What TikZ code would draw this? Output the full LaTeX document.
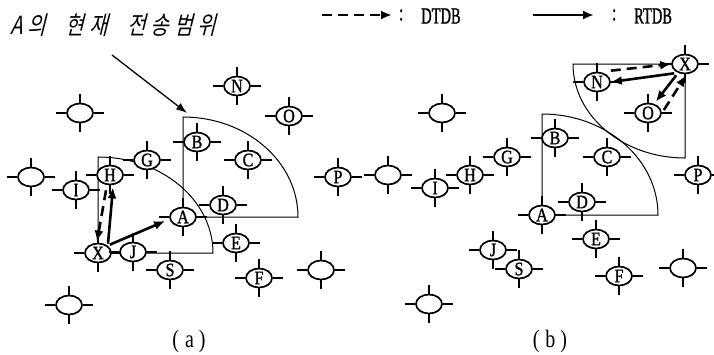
\documentclass[tikz,border=0pt]{standalone}
\usepackage{fontspec}
\setmainfont{Liberation Serif}
\newfontfamily\lblfont{Liberation Serif}[FakeStretch=0.85,FakeBold=1.2]
\newfontfamily\legfont{Liberation Serif}[FakeStretch=0.63,FakeBold=1]
\newfontfamily\capfont{Liberation Serif}[FakeStretch=0.8]
\newfontfamily\kfont{Noto Sans CJK KR}[FakeSlant=0.25,FakeStretch=0.8]
\usetikzlibrary{shapes.geometric,arrows.meta,backgrounds,calc}

\tikzset{
  station/.style={ellipse, draw, line width=1.7pt, fill=white,
    minimum width=26pt, minimum height=19pt, inner sep=0pt,
    font=\lblfont\fontsize{19}{19}\selectfont},
  tickline/.style={line width=1.4pt},
  rangeline/.style={line width=1pt},
  rtdb/.style={line width=2.6pt, -{Latex[length=11pt,width=9pt]}},
  dtdb/.style={rtdb, dash pattern=on 10pt off 6pt},
  pointer/.style={line width=1.3pt, -{Latex[length=11pt,width=8pt]}},
  legendtext/.style={inner sep=0pt, anchor=west, font=\legfont\fontsize{23}{23}\selectfont},
  ktext/.style={inner sep=0pt, anchor=base west, font=\kfont\fontsize{25}{25}\selectfont},
  caption/.style={inner sep=0pt, font=\capfont\fontsize{25}{25}\selectfont},
}

% a station: ellipse with a short tick on each side
\newcommand\station[3]{%
  \node[station] (#1) at (#2) {#3};
  \draw[tickline] (#1.north) -- ++(0pt,9pt) (#1.south) -- ++(0pt,-9pt)
    (#1.east) -- ++(10pt,0pt) (#1.west) -- ++(-10pt,0pt);}
\newcommand\kgap{\hspace{5pt}}
\newcommand\wgap{\hspace{20pt}}

\begin{document}
\begin{tikzpicture}[x=1pt,y=-1pt]
\useasboundingbox (0,0) rectangle (714,354);

% title and legend
\node[ktext] (title) at (10,34) {A\kgap 의\wgap 현\kgap 재\wgap 전\kgap 송\kgap 범\kgap 위};

\coordinate (d0) at (322,15);
\coordinate (d1) at (392,15);
\draw[dtdb] (d0) -- (d1);
\node[legendtext] (dcol) at (399,15) {:};
\node[legendtext] (dtxt) at (421,16) {DTDB};
\coordinate (r0) at (533,15);
\coordinate (r1) at (594,15);
\draw[rtdb] (r0) -- (r1);
\node[legendtext] (rcol) at (612,15) {:};
\node[legendtext] (rtxt) at (634,16) {RTDB};

% ---- panel (a)
\station{aE1}{80,113}{}
\station{aN}{237,86}{N}
\station{aO}{289,116}{O}
\station{aB}{197,142}{B}
\station{aC}{248,160}{C}
\station{aG}{147,160}{G}
\station{aH}{110,175}{H}
\station{aI}{76,190}{I}
\station{aE2}{31,177}{}
\station{aP}{338,177}{P}
\station{aD}{223,205}{D}
\station{aA}{183,217}{A}
\station{aE}{236,243}{E}
\station{aX}{98,253}{X}
\station{aJ}{133,252}{J}
\station{aS}{170,270}{S}
\station{aF}{259,278}{F}
\station{aE3}{321,270}{}
\station{aE4}{69,305}{}

% ---- panel (b)
\station{bE1}{442,113}{}
\station{bG}{507,157}{G}
\station{bB}{555,138}{B}
\station{bC}{607,157}{C}
\station{bH}{470,175}{H}
\station{bI}{435,188}{I}
\station{bE2}{388,175}{}
\station{bP}{698,175}{P}
\station{bD}{582,202}{D}
\station{bA}{542,215}{A}
\station{bE}{596,239}{E}
\station{bJ}{493,250}{J}
\station{bS}{519,269}{S}
\station{bF}{619,276}{F}
\station{bE3}{683,268}{}
\station{bE4}{429,304}{}
\station{bX}{685,64}{X}
\station{bN}{597,82}{N}
\station{bO}{648,113}{O}

% transmission ranges
\begin{scope}[on background layer]
  \draw[rangeline] (aA.center) -- ++(0pt,100pt)
    arc[start angle=90,end angle=0,x radius=115pt,y radius=100pt] -- cycle;
  \draw[rangeline] (aX.center) -- ++(0pt,96pt)
    arc[start angle=90,end angle=0,x radius=115pt,y radius=96pt] -- cycle;
  \draw[rangeline] (bA.center) -- ++(0pt,101pt)
    arc[start angle=90,end angle=0,x radius=116pt,y radius=101pt] -- cycle;
  \draw[rangeline] (bX.center) -- ++(-112pt,0pt)
    arc[start angle=180,end angle=270,x radius=112pt,y radius=94pt] -- cycle;
\end{scope}

% pointer to the range of A
\coordinate (ptr) at (112,55);
\draw[pointer] (ptr) -- ($(aA.center)+(4pt,104pt)$);

% database transfers in (a)
\draw[dtdb] ($(aH.south)+(-4pt,-5pt)$) -- ($(aX.north)+(-1pt,1pt)$);
\draw[rtdb] ($(aX.north)+(10pt,-1pt)$) -- ($(aH.south)+(3pt,-2pt)$);
\draw[rtdb] ($(aX.north east)+(2pt,1pt)$) -- ($(aA.west)+(-4pt,-4pt)$);

% database transfers in (b)
\draw[dtdb] ($(bN.north east)+(4pt,4pt)$) -- (bX.west);
\draw[rtdb] ($(bX.south west)+(-1pt,-2pt)$) -- (bN.east);
\draw[rtdb] ($(bX.south west)+(1pt,-4pt)$) -- ($(bO.north east)+(-2pt,4pt)$);
\draw[dtdb] ($(bO.east)+(2pt,3pt)$) -- ($(bX.south)+(1pt,-1pt)$);

% captions
\node[caption] (capa) at (189,341) {(\hspace{6pt}a\hspace{5pt})};
\node[caption] (capb) at (550,341) {(\hspace{6pt}b\hspace{5pt})};
\end{tikzpicture}
\end{document}
